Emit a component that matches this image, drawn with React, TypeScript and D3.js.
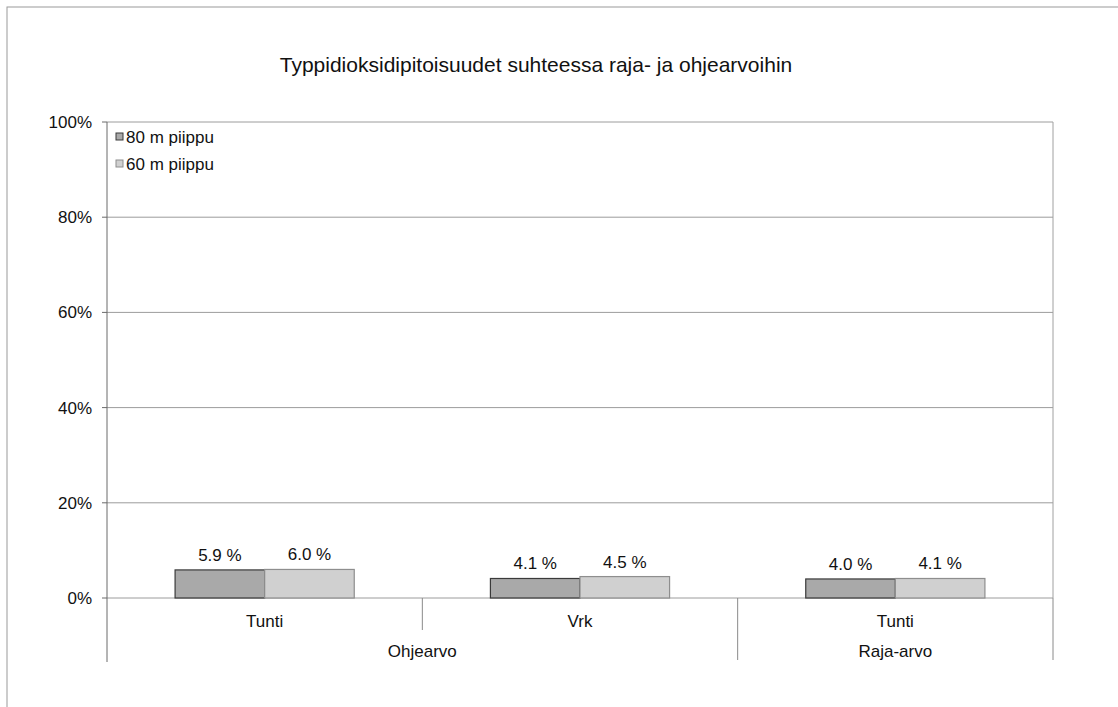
import React from "react";
import * as d3 from "d3";

// Nitrogen dioxide concentrations as a share of limit / guide values
const categories = ["Tunti", "Vrk", "Tunti"];
const groups = ["Ohjearvo", "Ohjearvo", "Raja-arvo"];
const seriesNames = ["80 m piippu", "60 m piippu"];
const values80 = [5.9, 4.1, 4.0];
const values60 = [6.0, 4.5, 4.1];
const yTicks = [0, 20, 40, 60, 80, 100];
const title = "Typpidioksidipitoisuudet suhteessa raja- ja ohjearvoihin";

const W = 1118;
const H = 707;
const FONT = "'Liberation Sans', Arial, Helvetica, sans-serif";

const fills = ["#a9a9a9", "#d0d0d0"];
const strokes = ["#3a3a3a", "#8e8e8e"];

export default function App() {
  const left = 107;
  const right = 1053;
  const top = 122;
  const bottom = 598;

  const keys = categories.map((c, i) => `${groups[i]}|${c}|${i}`);
  const x0 = d3.scaleBand<string>().domain(keys).range([left, right]).paddingInner(0).paddingOuter(0);
  const x1 = d3
    .scaleBand<string>()
    .domain(seriesNames)
    .range([0, x0.bandwidth()])
    .paddingInner(0)
    .paddingOuter(0.76);
  const y = d3.scaleLinear().domain([0, 100]).range([bottom, top]);

  const seriesValues = [values80, values60];
  const fmt = (v: number) => `${v.toFixed(1)} %`;

  // category boundaries: short ticks inside a group, long ticks between groups
  const boundaries: { x: number; long: boolean }[] = [];
  for (let i = 1; i < keys.length; i++) {
    boundaries.push({ x: x0(keys[i])!, long: groups[i] !== groups[i - 1] });
  }
  boundaries.push({ x: right, long: true });

  // spans of the outer grouping level
  const spans: { name: string; x0: number; x1: number }[] = [];
  keys.forEach((k, i) => {
    const a = x0(k)!;
    const b = a + x0.bandwidth();
    const last = spans[spans.length - 1];
    if (last && last.name === groups[i]) last.x1 = b;
    else spans.push({ name: groups[i], x0: a, x1: b });
  });

  return (
    <svg
      width={W}
      height={H}
      style={{ position: "absolute", left: 0, top: 0, background: "#fff" }}
      fontFamily={FONT}
    >
      <rect x={0} y={0} width={W} height={H} fill="#fff" />
      {/* chart frame */}
      <rect x={7} y={7} width={W + 20} height={H + 20} fill="none" stroke="#9a9a9a" strokeWidth={1} />

      <text x={536} y={72} textAnchor="middle" fontSize={21} fill="#111">
        {title}
      </text>

      {/* gridlines */}
      {yTicks.map((t) => (
        <line key={t} x1={left} x2={right} y1={y(t)} y2={y(t)} stroke="#9c9c9c" strokeWidth={1} />
      ))}
      {/* right border of plot area */}
      <line x1={right} x2={right} y1={top} y2={bottom} stroke="#a0a0a0" strokeWidth={1} />

      {/* y axis */}
      <line x1={left} x2={left} y1={top} y2={662} stroke="#6a6a6a" strokeWidth={1} />
      {yTicks.map((t) => (
        <g key={`yt${t}`}>
          <line x1={left - 5} x2={left} y1={y(t)} y2={y(t)} stroke="#6a6a6a" />
          <text x={92} y={y(t)} dy="0.35em" textAnchor="end" fontSize={17} fill="#111">
            {`${t}%`}
          </text>
        </g>
      ))}

      {/* bars */}
      {keys.map((k, i) =>
        seriesNames.map((s, j) => {
          const v = seriesValues[j][i];
          const bx = x0(k)! + x1(s)!;
          return (
            <g key={`${k}-${s}`}>
              <rect
                x={bx}
                y={y(v)}
                width={x1.bandwidth()}
                height={y(0) - y(v)}
                fill={fills[j]}
                stroke={strokes[j]}
                strokeWidth={1.2}
              />
              <text
                x={bx + x1.bandwidth() / 2}
                y={y(v) - 9}
                textAnchor="middle"
                fontSize={17}
                fill="#111"
              >
                {fmt(v)}
              </text>
            </g>
          );
        })
      )}

      {/* category ticks and labels */}
      {boundaries.map((b, i) => (
        <line key={`b${i}`} x1={b.x} x2={b.x} y1={bottom} y2={b.long ? 660 : 630} stroke="#8a8a8a" />
      ))}
      {keys.map((k, i) => (
        <text key={`c${k}`} x={x0(k)! + x0.bandwidth() / 2} y={627} textAnchor="middle" fontSize={17} fill="#111">
          {categories[i]}
        </text>
      ))}
      {spans.map((s) => (
        <text key={`g${s.name}`} x={(s.x0 + s.x1) / 2} y={657} textAnchor="middle" fontSize={17} fill="#111">
          {s.name}
        </text>
      ))}

      {/* legend */}
      {seriesNames.map((s, j) => (
        <g key={`lg${s}`} transform={`translate(116, ${133 + j * 27})`}>
          <rect x={0} y={0} width={7} height={7} fill={fills[j]} stroke={strokes[j]} strokeWidth={1} />
          <text x={10} y={4} dy="0.35em" fontSize={17} fill="#111">
            {s}
          </text>
        </g>
      ))}
    </svg>
  );
}
